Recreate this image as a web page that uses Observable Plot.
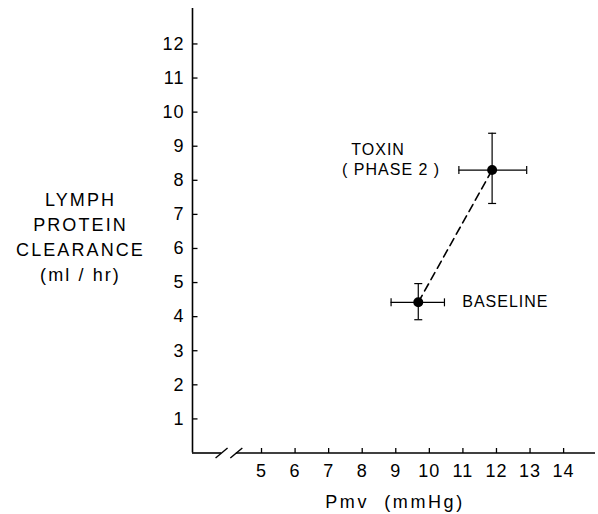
<!DOCTYPE html>
<html>
<head>
<meta charset="utf-8">
<script src="https://cdn.jsdelivr.net/npm/d3@7"></script>
<script src="https://cdn.jsdelivr.net/npm/@observablehq/plot@0.6"></script>
<style>
  html, body { margin: 0; padding: 0; background: #fff; }
</style>
</head>
<body>
<div id="chart"></div>
<script>
// ---- data ----
const conditions = ["BASELINE", "TOXIN"];
const pmv = [9.67, 11.87];          // mmHg
const pmvLo = [8.86, 10.88];
const pmvHi = [10.45, 12.90];
const clearance = [4.42, 8.30];     // ml/hr
const clearanceLo = [3.91, 7.32];
const clearanceHi = [4.97, 9.38];

const xTicks = [5, 6, 7, 8, 9, 10, 11, 12, 13, 14];
const yTicks = [1, 2, 3, 4, 5, 6, 7, 8, 9, 10, 11, 12];
const xDomain = [2.944, 14.95];
const yDomain = [0, 13.04];
const axisBreak = [3.81, 4.25];     // x-axis break (data units)

const yTitle = "LYMPH\nPROTEIN\nCLEARANCE\n(ml / hr)";
const xTitle = "Pmv  (mmHg)";

// ---- table for the library ----
const points = conditions.map((c, i) => ({
  condition: c, x: pmv[i], y: clearance[i],
  xLo: pmvLo[i], xHi: pmvHi[i], yLo: clearanceLo[i], yHi: clearanceHi[i]
}));
const base = points[0], toxin = points[1];

// custom symbols (pixel-sized strokes)
const hCap = { draw(ctx) { ctx.moveTo(-4, 0); ctx.lineTo(4, 0); } };
const vCap = { draw(ctx) { ctx.moveTo(0, -4); ctx.lineTo(0, 4); } };
const tickUp = { draw(ctx) { ctx.moveTo(0, 0); ctx.lineTo(0, -5); } };
const tickRight = { draw(ctx) { ctx.moveTo(0, 0); ctx.lineTo(5, 0); } };
const slash = { draw(ctx) { ctx.moveTo(-6, 5); ctx.lineTo(6, -5); } };

const font = "'Liberation Sans', Arial, sans-serif";

const chart = Plot.plot({
  width: 598,
  height: 514,
  marginLeft: 192,
  marginRight: 3,
  marginTop: 8,
  marginBottom: 61.5,
  style: { fontFamily: font, fontSize: "18px", color: "#000", background: "#fff", letterSpacing: "1px" },
  x: { domain: xDomain, ticks: xTicks, tickSize: 0, tickPadding: 11, tickFormat: d => String(d), label: null },
  y: { domain: yDomain, ticks: yTicks, tickSize: 0, tickPadding: 8, tickFormat: d => String(d), label: null },
  marks: [
    // axis lines
    Plot.ruleX([xDomain[0]], { stroke: "#000", strokeWidth: 1.6 }),
    Plot.ruleY([0], { x1: xDomain[0], x2: axisBreak[0], stroke: "#000", strokeWidth: 1.6 }),
    Plot.ruleY([0], { x1: axisBreak[1], x2: xDomain[1], stroke: "#000", strokeWidth: 1.6 }),
    Plot.dot(axisBreak, { x: d => d, y: 0, symbol: slash, r: 4, stroke: "#000", strokeWidth: 1.4, fill: "none" }),
    // inward ticks
    Plot.dot(xTicks, { x: d => d, y: 0, symbol: tickUp, r: 3, stroke: "#000", strokeWidth: 1.3, fill: "none" }),
    Plot.dot(yTicks, { x: xDomain[0], y: d => d, symbol: tickRight, r: 3, stroke: "#000", strokeWidth: 1.3, fill: "none" }),
    // dashed connecting line
    Plot.line(points, { x: "x", y: "y", stroke: "#000", strokeWidth: 1.6, strokeDasharray: "8,5" }),
    // error bars
    Plot.ruleY(points, { y: "y", x1: "xLo", x2: "xHi", stroke: "#000", strokeWidth: 1.2 }),
    Plot.ruleX(points, { x: "x", y1: "yLo", y2: "yHi", stroke: "#000", strokeWidth: 1.2 }),
    Plot.dot(points, { x: "xLo", y: "y", symbol: vCap, r: 3, stroke: "#000", strokeWidth: 1.2, fill: "none" }),
    Plot.dot(points, { x: "xHi", y: "y", symbol: vCap, r: 3, stroke: "#000", strokeWidth: 1.2, fill: "none" }),
    Plot.dot(points, { x: "x", y: "yLo", symbol: hCap, r: 3, stroke: "#000", strokeWidth: 1.2, fill: "none" }),
    Plot.dot(points, { x: "x", y: "yHi", symbol: hCap, r: 3, stroke: "#000", strokeWidth: 1.2, fill: "none" }),
    // points
    Plot.dot(points, { x: "x", y: "y", r: 5, fill: "#000", stroke: "none" }),
    // annotations
    Plot.text([toxin], { x: "x", y: "y", text: () => "TOXIN", dx: -114, dy: -26, lineAnchor: "top", textAnchor: "middle", fontSize: 16, fill: "#000" }),
    Plot.text([toxin], { x: "x", y: "y", text: () => "( PHASE 2 )", dx: -101, dy: -6, lineAnchor: "top", textAnchor: "middle", fontSize: 16, fill: "#000" }),
    Plot.text([base], { x: "x", y: "y", text: "condition", dx: 44, dy: -7, lineAnchor: "top", textAnchor: "start", fontSize: 16, fill: "#000" }),
    // axis titles
    Plot.text([yTitle], { frameAnchor: "left", dx: -112, dy: -43, lineAnchor: "top", textAnchor: "middle", lineHeight: 1.4, fontSize: 18, fill: "#000" }),
    Plot.text([xTitle], { frameAnchor: "bottom", dx: 1, dy: 42, lineAnchor: "top", textAnchor: "middle", fontSize: 18, fill: "#000" })
  ]
});
// wider letter spacing for the axis titles, as in the reference lettering
d3.select(chart).selectAll("text").each(function () {
  const t = this.textContent;
  if (t.includes("CLEARANCE")) this.style.letterSpacing = "2.1px";
  else if (t.includes("mmHg")) this.style.letterSpacing = "2.6px";
});
document.getElementById("chart").appendChild(chart);
</script>
</body>
</html>
